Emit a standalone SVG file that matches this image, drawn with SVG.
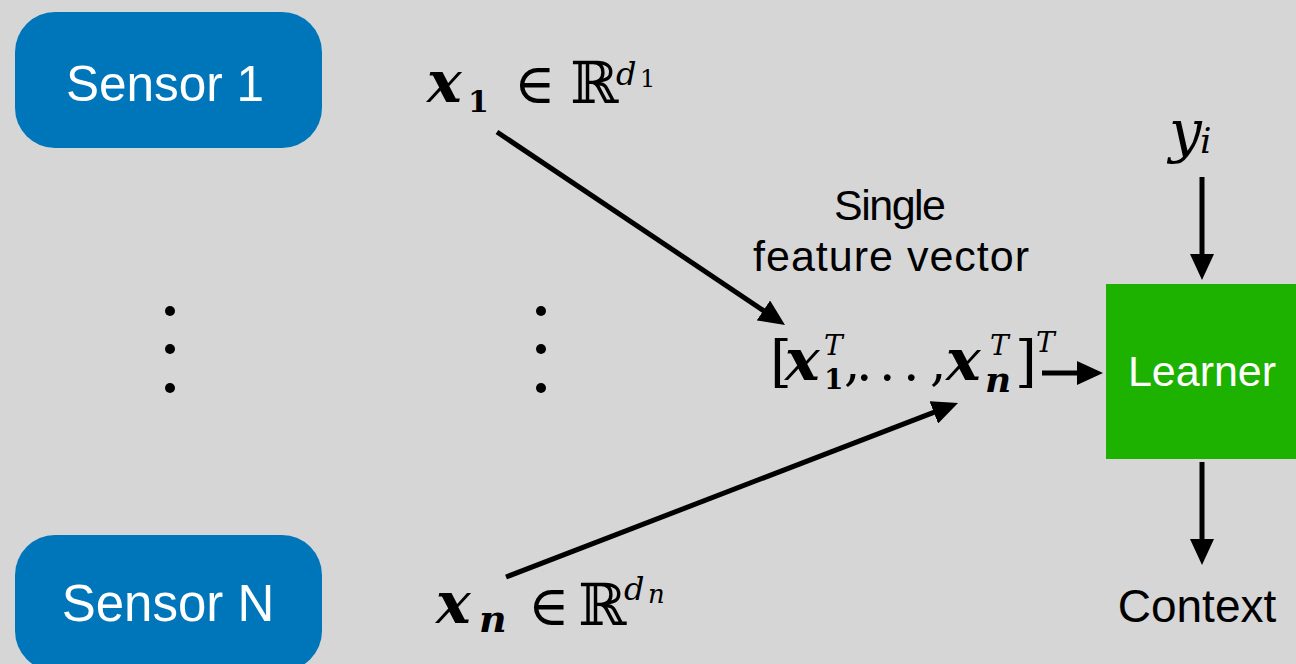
<svg xmlns="http://www.w3.org/2000/svg" width="1296" height="664" viewBox="0 0 1296 664">
<defs>
<style>
.bg{fill:#d6d6d6}
.sensor rect{fill:#0076ba}
.lbl{font-family:"Liberation Sans",Arial,sans-serif;text-anchor:middle}
.wt{fill:#ffffff}
.bk{fill:#000000}
.m{font-family:"DejaVu Serif","Liberation Serif",serif;fill:#000}
.bi{font-weight:bold;font-style:italic}
.b{font-weight:bold;font-style:normal}
.i{font-style:italic;font-weight:normal}
.r{font-style:normal;font-weight:normal}
.conn{stroke:#000;stroke-width:5;fill:none;marker-end:url(#ah)}
.dot{fill:#000}
</style>
<marker id="ah" viewBox="0 0 26 24" refX="16" refY="12" markerWidth="26" markerHeight="24" markerUnits="userSpaceOnUse" orient="auto">
<path d="M0,0 L26,12 L0,24 Z" fill="#000"/>
</marker>
</defs>
<rect class="bg" x="0" y="0" width="1296" height="664"/>

<g id="sensor1" class="sensor">
<rect x="15" y="12" width="307" height="136" rx="40" ry="40"/>
<text class="lbl wt" x="165" y="101" font-size="49.5">Sensor 1</text>
</g>

<g id="sensorN" class="sensor">
<rect x="15" y="535" width="307" height="136" rx="40" ry="40"/>
<text class="lbl wt" x="168" y="621" font-size="51">Sensor N</text>
</g>

<g id="dots-left">
<circle class="dot" cx="170" cy="311" r="5"/>
<circle class="dot" cx="170" cy="349" r="5"/>
<circle class="dot" cx="170" cy="388" r="5"/>
</g>
<g id="dots-mid">
<circle class="dot" cx="541" cy="311" r="5"/>
<circle class="dot" cx="541" cy="349" r="5"/>
<circle class="dot" cx="541" cy="388" r="5"/>
</g>

<g id="x1-label">
<text class="m"><tspan class="bi" x="427" y="102" font-size="58">x</tspan><tspan class="b" x="468" y="112" font-size="30">1</tspan><tspan class="r" x="514" y="103" font-size="56">∈</tspan><tspan class="r" x="570" y="103" font-size="58">ℝ</tspan><tspan class="i" x="616" y="85" font-size="32">d</tspan><tspan class="r" x="640" y="87" font-size="24">1</tspan></text>
</g>

<g id="xn-label">
<text class="m"><tspan class="bi" x="436" y="623" font-size="58">x</tspan><tspan class="bi" x="479" y="632" font-size="38">n</tspan><tspan class="r" x="528" y="625" font-size="56">∈</tspan><tspan class="r" x="578" y="625" font-size="58">ℝ</tspan><tspan class="i" x="624" y="600" font-size="32">d</tspan><tspan class="i" x="648" y="603" font-size="26">n</tspan></text>
</g>

<g id="feature-vector">
<text class="m"><tspan class="r" x="770" y="381" font-size="56">[</tspan><tspan class="bi" x="785" y="380" font-size="58">x</tspan><tspan class="i" x="824" y="355" font-size="28">T</tspan><tspan class="b" x="824" y="389" font-size="28">1</tspan><tspan class="r" x="844" y="380" font-size="52">,</tspan><tspan class="r" x="856 879 903" y="380" font-size="52">...</tspan><tspan class="r" x="930" y="380" font-size="52">,</tspan><tspan class="bi" x="946" y="380" font-size="58">x</tspan><tspan class="i" x="990" y="355" font-size="28">T</tspan><tspan class="bi" x="985" y="392" font-size="36">n</tspan><tspan class="r" x="1015" y="381" font-size="56">]</tspan><tspan class="i" x="1036" y="352" font-size="28">T</tspan></text>
</g>

<g id="caption">
<text class="lbl bk" x="890" y="220" font-size="43" textLength="112">Single</text>
<text class="lbl bk" x="891" y="271" font-size="43" textLength="276">feature vector</text>
</g>

<g id="yi-label">
<text class="m"><tspan class="i" x="1169" y="151" font-size="58">y</tspan><tspan class="i" x="1200" y="153" font-size="36">i</tspan></text>
</g>

<g id="learner">
<rect x="1106" y="284" width="190" height="175" fill="#1db100"/>
<text class="lbl wt" x="1202" y="386" font-size="43">Learner</text>
</g>

<g id="context">
<text class="lbl bk" x="1197" y="622" font-size="46">Context</text>
</g>

<g id="connectors">
<line class="conn" x1="497" y1="132" x2="776.7" y2="319.4"/>
<line class="conn" x1="506" y1="577" x2="948.7" y2="406.6"/>
<line class="conn" x1="1042" y1="373" x2="1093" y2="373"/>
<line class="conn" x1="1202" y1="177" x2="1202" y2="270"/>
<line class="conn" x1="1202" y1="462" x2="1202" y2="555"/>
</g>
</svg>
